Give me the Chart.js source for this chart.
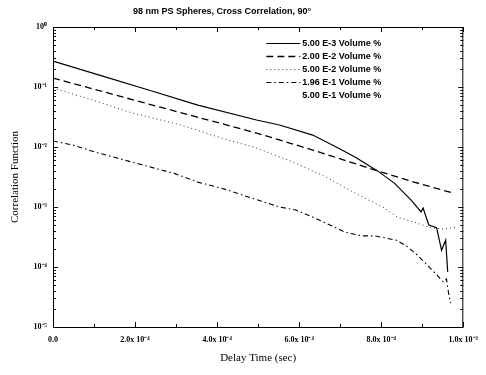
<!DOCTYPE html>
<html>
<head>
<meta charset="utf-8">
<script src="https://cdn.jsdelivr.net/npm/chart.js@4.4.1/dist/chart.umd.min.js"></script>
<style>
  html, body { margin: 0; padding: 0; background: #fff; }
</style>
</head>
<body>
<canvas id="myChart" width="486" height="375"></canvas>
<script>
//---------------------------- data (delay time in sec / correlation function) ----------------------------
const chartTitle = '98 nm PS Spheres, Cross Correlation, 90°';
const seriesLabels = ['5.00 E-3 Volume %', '2.00 E-2 Volume %', '5.00 E-2 Volume %', '1.96 E-1 Volume %', '5.00 E-1 Volume %'];

const time1 = [0, 1.13e-4, 2.33e-4, 3.53e-4, 4.96e-4, 5.52e-4, 6.33e-4, 6.95e-4, 7.36e-4, 7.91e-4, 8.32e-4, 8.73e-4, 8.97e-4, 9.02e-4, 9.16e-4, 9.35e-4, 9.47e-4, 9.57e-4, 9.62e-4];
const corr1 = [0.271, 0.158, 0.089, 0.050, 0.0282, 0.0233, 0.0158, 0.0096, 0.0068, 0.0040, 0.0025, 0.0013, 0.00083, 0.00096, 0.00050, 0.00045, 0.00019, 0.00028, 0.000083];

const time2 = [0, 2.33e-4, 4.96e-4, 6.33e-4, 7.91e-4, 8.80e-4, 9.76e-4];
const corr2 = [0.141, 0.052, 0.0171, 0.0089, 0.0040, 0.0026, 0.0017];

const time3 = [0, 0.41e-4, 0.96e-4, 1.92e-4, 3.12e-4, 4.25e-4, 4.89e-4, 5.85e-4, 6.64e-4, 7.36e-4, 8.08e-4, 8.39e-4, 8.80e-4, 9.21e-4, 9.52e-4, 9.81e-4];
const corr3 = [0.096, 0.079, 0.061, 0.037, 0.0233, 0.0131, 0.0100, 0.0056, 0.0032, 0.0017, 0.00096, 0.00068, 0.00056, 0.00045, 0.00043, 0.00046];

const time4 = [0, 0.48e-4, 1.01e-4, 1.54e-4, 2.01e-4, 2.97e-4, 3.53e-4, 4.17e-4, 4.72e-4, 5.52e-4, 5.92e-4, 6.33e-4, 6.81e-4, 7.12e-4, 7.53e-4, 7.84e-4, 8.37e-4, 8.63e-4, 8.87e-4, 9.11e-4, 9.35e-4, 9.52e-4, 9.59e-4, 9.64e-4, 9.69e-4];
const corr4 = [0.0126, 0.0108, 0.0083, 0.0066, 0.0054, 0.0036, 0.0026, 0.0020, 0.0015, 0.0010, 0.00089, 0.00068, 0.00048, 0.00038, 0.00033, 0.00033, 0.00028, 0.00022, 0.00016, 0.00011, 0.000074, 0.000056, 0.000063, 0.000037, 0.000025];

// the 5th series has no visible trace in the figure
const time5 = [];
const corr5 = [];

const xTickValues = [0, 2e-4, 4e-4, 6e-4, 8e-4, 1e-3];
const xTickLabels = ['0.0', '2.0x 10⁻⁴', '4.0x 10⁻⁴', '6.0x 10⁻⁴', '8.0x 10⁻⁴', '1.0x 10⁻³'];
const yTickValues = [1e-5, 1e-4, 1e-3, 1e-2, 1e-1, 1];
const yTickLabels = ['10⁻⁵', '10⁻⁴', '10⁻³', '10⁻²', '10⁻¹', '10⁰'];

const zip = (t, c) => t.map((v, i) => ({ x: v, y: c[i] }));

//---------------------------- plugins ----------------------------
// inward tick marks on all four sides + closing box
const frameTicks = {
    id: 'frameTicks',
    afterDraw(chart) {
        const { ctx, chartArea: a, scales } = chart;
        const xs = scales.x, ys = scales.y;
        ctx.save();
        ctx.strokeStyle = '#000';
        ctx.lineWidth = 1;
        ctx.strokeRect(a.left + 0.5, a.top + 0.5, a.right - a.left - 1, a.bottom - a.top);
        ctx.beginPath();
        for (let i = 0; i <= 10; i++) {
            const px = Math.round(xs.getPixelForValue(i * 1e-4)) + 0.5;
            const len = i % 2 === 0 ? 5 : 3;
            ctx.moveTo(px, a.bottom); ctx.lineTo(px, a.bottom - len);
            ctx.moveTo(px, a.top); ctx.lineTo(px, a.top + len);
        }
        for (let k = -5; k <= 0; k++) {
            for (let m = 1; m <= 9; m++) {
                const v = m * Math.pow(10, k);
                if (v > 1.0001) break;
                const py = Math.round(ys.getPixelForValue(v)) + 0.5;
                const len = m === 1 ? 5 : 3;
                ctx.moveTo(a.left, py); ctx.lineTo(a.left + len, py);
                ctx.moveTo(a.right, py); ctx.lineTo(a.right - len, py);
            }
        }
        ctx.stroke();

        // title
        ctx.fillStyle = '#000';
        ctx.font = 'bold 9px "Liberation Sans", Arial, sans-serif';
        ctx.textAlign = 'center';
        ctx.textBaseline = 'middle';
        ctx.fillText(chartTitle, 222, 12);

        // legend inside the plot, top right, no box
        const lx = a.right - 197;
        chart.data.datasets.forEach((ds, i) => {
            const ly = a.top + 16 + i * 13;
            ctx.beginPath();
            ctx.setLineDash(ds.borderDash || []);
            ctx.strokeStyle = ds.borderColor;
            ctx.lineWidth = ds.borderWidth;
            ctx.moveTo(lx, ly + 0.5); ctx.lineTo(lx + 34, ly + 0.5);
            ctx.stroke();
            ctx.setLineDash([]);
            ctx.fillStyle = '#000';
            ctx.textAlign = 'left';
            ctx.fillText(ds.label, lx + 36, ly + 1);
        });
        ctx.restore();
    }
};

//---------------------------- chart ----------------------------
const ctx = document.getElementById('myChart');
const myChart = new Chart(ctx, {
    type: 'line',
    data: {
        datasets: [
            { label: seriesLabels[0], data: zip(time1, corr1), borderColor: '#000', borderWidth: 1.2, borderDash: [] },
            { label: seriesLabels[1], data: zip(time2, corr2), borderColor: '#000', borderWidth: 1.3, borderDash: [7, 4] },
            { label: seriesLabels[2], data: zip(time3, corr3), borderColor: '#333', borderWidth: 1, borderDash: [1, 3] },
            { label: seriesLabels[3], data: zip(time4, corr4), borderColor: '#000', borderWidth: 1.1, borderDash: [5, 3, 1.5, 3] },
            { label: seriesLabels[4], data: zip(time5, corr5), borderColor: 'rgba(0,0,0,0)', borderWidth: 1, borderDash: [] },
        ]
    },
    options: {
        responsive: false,
        animation: false,
        parsing: false,
        elements: {
            point: { radius: 0 },
            line: { tension: 0, fill: false },
        },
        layout: {
            padding: { top: 27, right: 16, left: 0, bottom: 0 },
        },
        plugins: {
            legend: { display: false },
            title: { display: false },
            tooltip: { enabled: false },
        },
        scales: {
            x: {
                type: 'linear',
                min: 0,
                max: 1e-3,
                grid: { display: false, drawTicks: false },
                border: { display: false },
                afterBuildTicks: (scale) => { scale.ticks = xTickValues.map(v => ({ value: v })); },
                afterFit: (scale) => { scale.height = 48; },
                ticks: {
                    autoSkip: false,
                    maxRotation: 0,
                    padding: 8,
                    color: '#000',
                    font: { family: '"Liberation Serif", serif', size: 8, weight: 'bold' },
                    callback: (value, index) => xTickLabels[index],
                },
                title: {
                    display: true,
                    text: 'Delay Time (sec)',
                    color: '#000',
                    font: { family: '"Liberation Serif", serif', size: 11 },
                    padding: { top: 0, bottom: 10 },
                },
            },
            y: {
                type: 'logarithmic',
                min: 1e-5,
                max: 1,
                grid: { display: false, drawTicks: false },
                border: { display: false },
                afterBuildTicks: (scale) => { scale.ticks = yTickValues.map(v => ({ value: v })); },
                afterFit: (scale) => { scale.width = 53; },
                ticks: {
                    autoSkip: false,
                    padding: 6,
                    color: '#000',
                    font: { family: '"Liberation Serif", serif', size: 8, weight: 'bold' },
                    callback: (value, index) => yTickLabels[index],
                },
                title: {
                    display: true,
                    text: 'Correlation Function',
                    color: '#000',
                    font: { family: '"Liberation Serif", serif', size: 11 },
                    padding: { top: 9, bottom: 0 },
                },
            },
        },
    },
    plugins: [frameTicks]
});
</script>
</body>
</html>
